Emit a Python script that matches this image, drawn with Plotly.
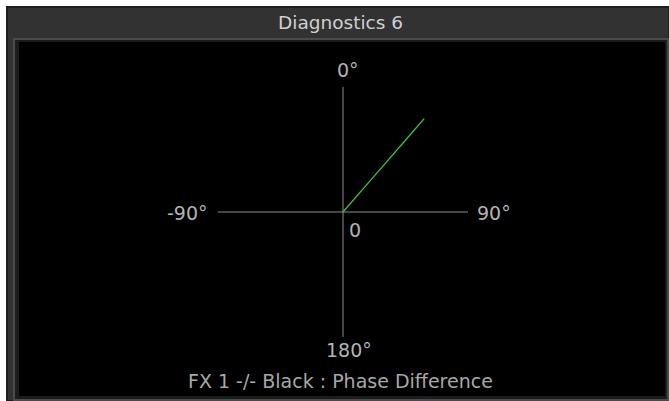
import math
import plotly.graph_objects as go

# ---- data ----
axis_tick_angles = [0, 90, 180, 270]
axis_tick_labels = ["0°", "90°", "180°", "-90°"]
phase_r = [0.0, 0.25, 0.5, 0.75, 0.99]
phase_theta = [41, 41, 41, 41, 41]
title_text = "Diagnostics 6"
caption_text = "FX 1 -/- Black : Phase Difference"
center_label = "0"

W, H = 669, 401

def px(x):
    return x / W

def py(y):
    return 1 - y / H

def rect(x0, y0, x1, y1, fill, line=None, lw=0):
    return dict(type="rect", xref="paper", yref="paper",
                x0=px(x0), x1=px(x1), y0=py(y1), y1=py(y0),
                fillcolor=fill, line=dict(color=line or fill, width=lw),
                layer="below")

fig = go.Figure()
fig.add_trace(go.Scatterpolar(
    r=phase_r, theta=phase_theta, mode="lines",
    line=dict(color="#3fc43f", width=1.3), hoverinfo="skip", showlegend=False))

cx, cy, R = 343, 212, 125
FONT = "DejaVu Sans"
LABEL_COLOR = "#b4b4b4"

# tick-label placement (layout only): distance from centre, anchors, small shifts
label_style = {
    0:   dict(dist=142, xanchor="center", yanchor="middle", dx=5, dy=0),
    90:  dict(dist=132, xanchor="left", yanchor="middle", dx=0, dy=1),
    180: dict(dist=138, xanchor="center", yanchor="middle", dx=6, dy=0),
    270: dict(dist=133, xanchor="right", yanchor="middle", dx=0, dy=1),
}

annotations = [
    dict(text=title_text, x=px(341), y=py(22), xref="paper", yref="paper",
         xanchor="center", yanchor="middle", showarrow=False,
         font=dict(family=FONT, size=18.5, color="#d0d0d0")),
    dict(text=caption_text, x=px(341), y=py(381), xref="paper", yref="paper",
         xanchor="center", yanchor="middle", showarrow=False,
         font=dict(family=FONT, size=19, color="#a8a8a8")),
    dict(text=center_label, x=px(355), y=py(229.5), xref="paper", yref="paper",
         xanchor="center", yanchor="middle", showarrow=False,
         font=dict(family=FONT, size=19, color=LABEL_COLOR)),
]
for ang, lab in zip(axis_tick_angles, axis_tick_labels):
    st = label_style[ang]
    a = math.radians(ang)
    lx = cx + st["dist"] * math.sin(a) + st["dx"]
    ly = cy - st["dist"] * math.cos(a) + st["dy"]
    annotations.append(dict(text=lab, x=px(lx), y=py(ly), xref="paper", yref="paper",
                            xanchor=st["xanchor"], yanchor=st["yanchor"], showarrow=False,
                            font=dict(family=FONT, size=19, color=LABEL_COLOR)))

fig.update_layout(
    width=W, height=H, margin=dict(l=0, r=0, t=0, b=0),
    paper_bgcolor="white", plot_bgcolor="black", showlegend=False,
    font=dict(family=FONT, size=13, color="#b0b0b0"),
    polar=dict(
        domain=dict(x=[px(cx - R), px(cx + R)], y=[py(cy + R), py(cy - R)]),
        bgcolor="rgba(0,0,0,0)",
        angularaxis=dict(rotation=90, direction="clockwise",
                         tickmode="array", tickvals=axis_tick_angles,
                         ticktext=axis_tick_labels, showticklabels=False,
                         showline=False, ticks="", gridcolor="#8c8c8c", gridwidth=1),
        radialaxis=dict(range=[0, 1], showline=False, showgrid=False,
                        showticklabels=False, ticks=""),
    ),
    shapes=[
        rect(7, 7, 669, 401, "#323232", "#1e1e1e", 2),
        rect(13, 38, 669, 401, "#4a4a4a"),
        rect(15, 40, 667, 399, "#1c1c1c"),
        rect(19, 42, 665, 396, "#000000"),
    ],
    annotations=annotations,
)

fig.write_html("out.html", config={"displayModeBar": False},
               post_script="document.body.style.margin='0';document.body.style.overflow='hidden';")
